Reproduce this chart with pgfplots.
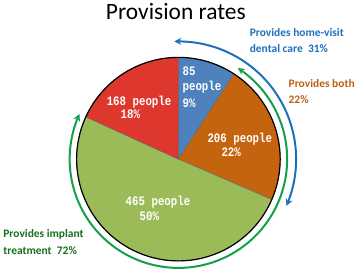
\documentclass[border=0pt]{standalone}
\usepackage{fontspec}
\setmainfont{Carlito}
\newfontfamily\lblfont[FakeStretch=0.83]{Liberation Mono}
\usepackage{pgfplots}
\pgfplotsset{compat=1.18}
\usetikzlibrary{arrows.meta}
\definecolor{pieblue}{RGB}{79,129,189}
\definecolor{pieorange}{RGB}{197,100,15}
\definecolor{piegreen}{RGB}{155,187,89}
\definecolor{piered}{RGB}{222,55,45}
\definecolor{arcblue}{RGB}{30,112,190}
\definecolor{arcgreen}{RGB}{20,160,75}
\definecolor{txtgreen}{RGB}{25,110,30}
\definecolor{txtorange}{RGB}{185,95,20}
\begin{document}
\begin{tikzpicture}
% people per group: home-visit only, both, implant only, neither
\pgfmathsetmacro{\vA}{85}
\pgfmathsetmacro{\vB}{206}
\pgfmathsetmacro{\vC}{465}
\pgfmathsetmacro{\vD}{168}
\pgfmathsetmacro{\tot}{\vA+\vB+\vC+\vD}
\pgfmathsetmacro{\aA}{90}
\pgfmathsetmacro{\aB}{90-\vA/\tot*360}
\pgfmathsetmacro{\aC}{90-(\vA+\vB)/\tot*360}
\pgfmathsetmacro{\aD}{90-(\vA+\vB+\vC)/\tot*360}
\pgfmathsetmacro{\aE}{-270}
\begin{axis}[scale only axis, width=358pt, height=266pt,
  xmin=0, xmax=358, ymin=0, ymax=266, hide axis, clip=false]
\addplot[draw=black!60, line width=0.4pt, fill=pieblue, domain=\aB:\aA, samples=40]
  ({179+102*cos(x)},{110+102*sin(x)}) -- (axis cs:179,110) -- cycle;
\addplot[draw=black!60, line width=0.4pt, fill=pieorange, domain=\aC:\aB, samples=60]
  ({179+102*cos(x)},{110+102*sin(x)}) -- (axis cs:179,110) -- cycle;
\addplot[draw=black!60, line width=0.4pt, fill=piegreen, domain=\aD:\aC, samples=120]
  ({179+102*cos(x)},{110+102*sin(x)}) -- (axis cs:179,110) -- cycle;
\addplot[draw=black!60, line width=0.4pt, fill=piered, domain=\aE:\aD, samples=50]
  ({179+102*cos(x)},{110+102*sin(x)}) -- (axis cs:179,110) -- cycle;
\addplot[draw=black, line width=1.2pt, domain=0:360, samples=180]
  ({179+102*cos(x)},{110+102*sin(x)});
% arcs
\addplot[arcblue, line width=2pt, {Stealth[length=7pt,width=7pt]}-{Stealth[length=7pt,width=7pt]}, domain=\aC:92, samples=80]
  ({179+118*cos(x)},{110+118*sin(x)});
\addplot[arcgreen, line width=2pt, {Stealth[length=7pt,width=7pt]}-{Stealth[length=7pt,width=7pt]}, domain=\aD:\aB, samples=150]
  ({179+109*cos(x)},{110+109*sin(x)});
% title
\node[anchor=base, font=\fontsize{23.5}{26}\selectfont] at (axis cs:176.5,250) {Provision rates};
% annotations
\node[anchor=base west, text=arcblue, font=\fontsize{11.5}{13}\selectfont\bfseries] at (axis cs:247,233) {Provides home-visit};
\node[anchor=base west, text=arcblue, font=\fontsize{11.5}{13}\selectfont\bfseries] at (axis cs:247,217) {dental care\ \ 31\%};
\node[anchor=base west, text=txtorange, font=\fontsize{11.5}{13}\selectfont\bfseries] at (axis cs:286,182) {Provides both};
\node[anchor=base west, text=txtorange, font=\fontsize{11.5}{13}\selectfont\bfseries] at (axis cs:286,166) {22\%};
\node[anchor=base west, text=txtgreen, font=\fontsize{11.5}{13}\selectfont\bfseries] at (axis cs:0,31) {Provides implant};
\node[anchor=base west, text=txtgreen, font=\fontsize{11.5}{13}\selectfont\bfseries] at (axis cs:0,14) {treatment\ \ 72\%};
% slice labels
\tikzset{lbl/.style={anchor=base west, inner sep=0pt, text=white, font=\lblfont\fontsize{13}{14}\selectfont\bfseries}}
\node[lbl] at (axis cs:183,194) {85};
\node[lbl] at (axis cs:183,179) {people};
\node[lbl] at (axis cs:183,162) {9\%};
\node[lbl] at (axis cs:107,164) {168 people};
\node[lbl] at (axis cs:121,151) {18\%};
\node[lbl] at (axis cs:208,127) {206 people};
\node[lbl] at (axis cs:222,113) {22\%};
\node[lbl] at (axis cs:126,64) {465 people};
\node[lbl] at (axis cs:140,49) {50\%};
\end{axis}
\end{tikzpicture}
\end{document}
